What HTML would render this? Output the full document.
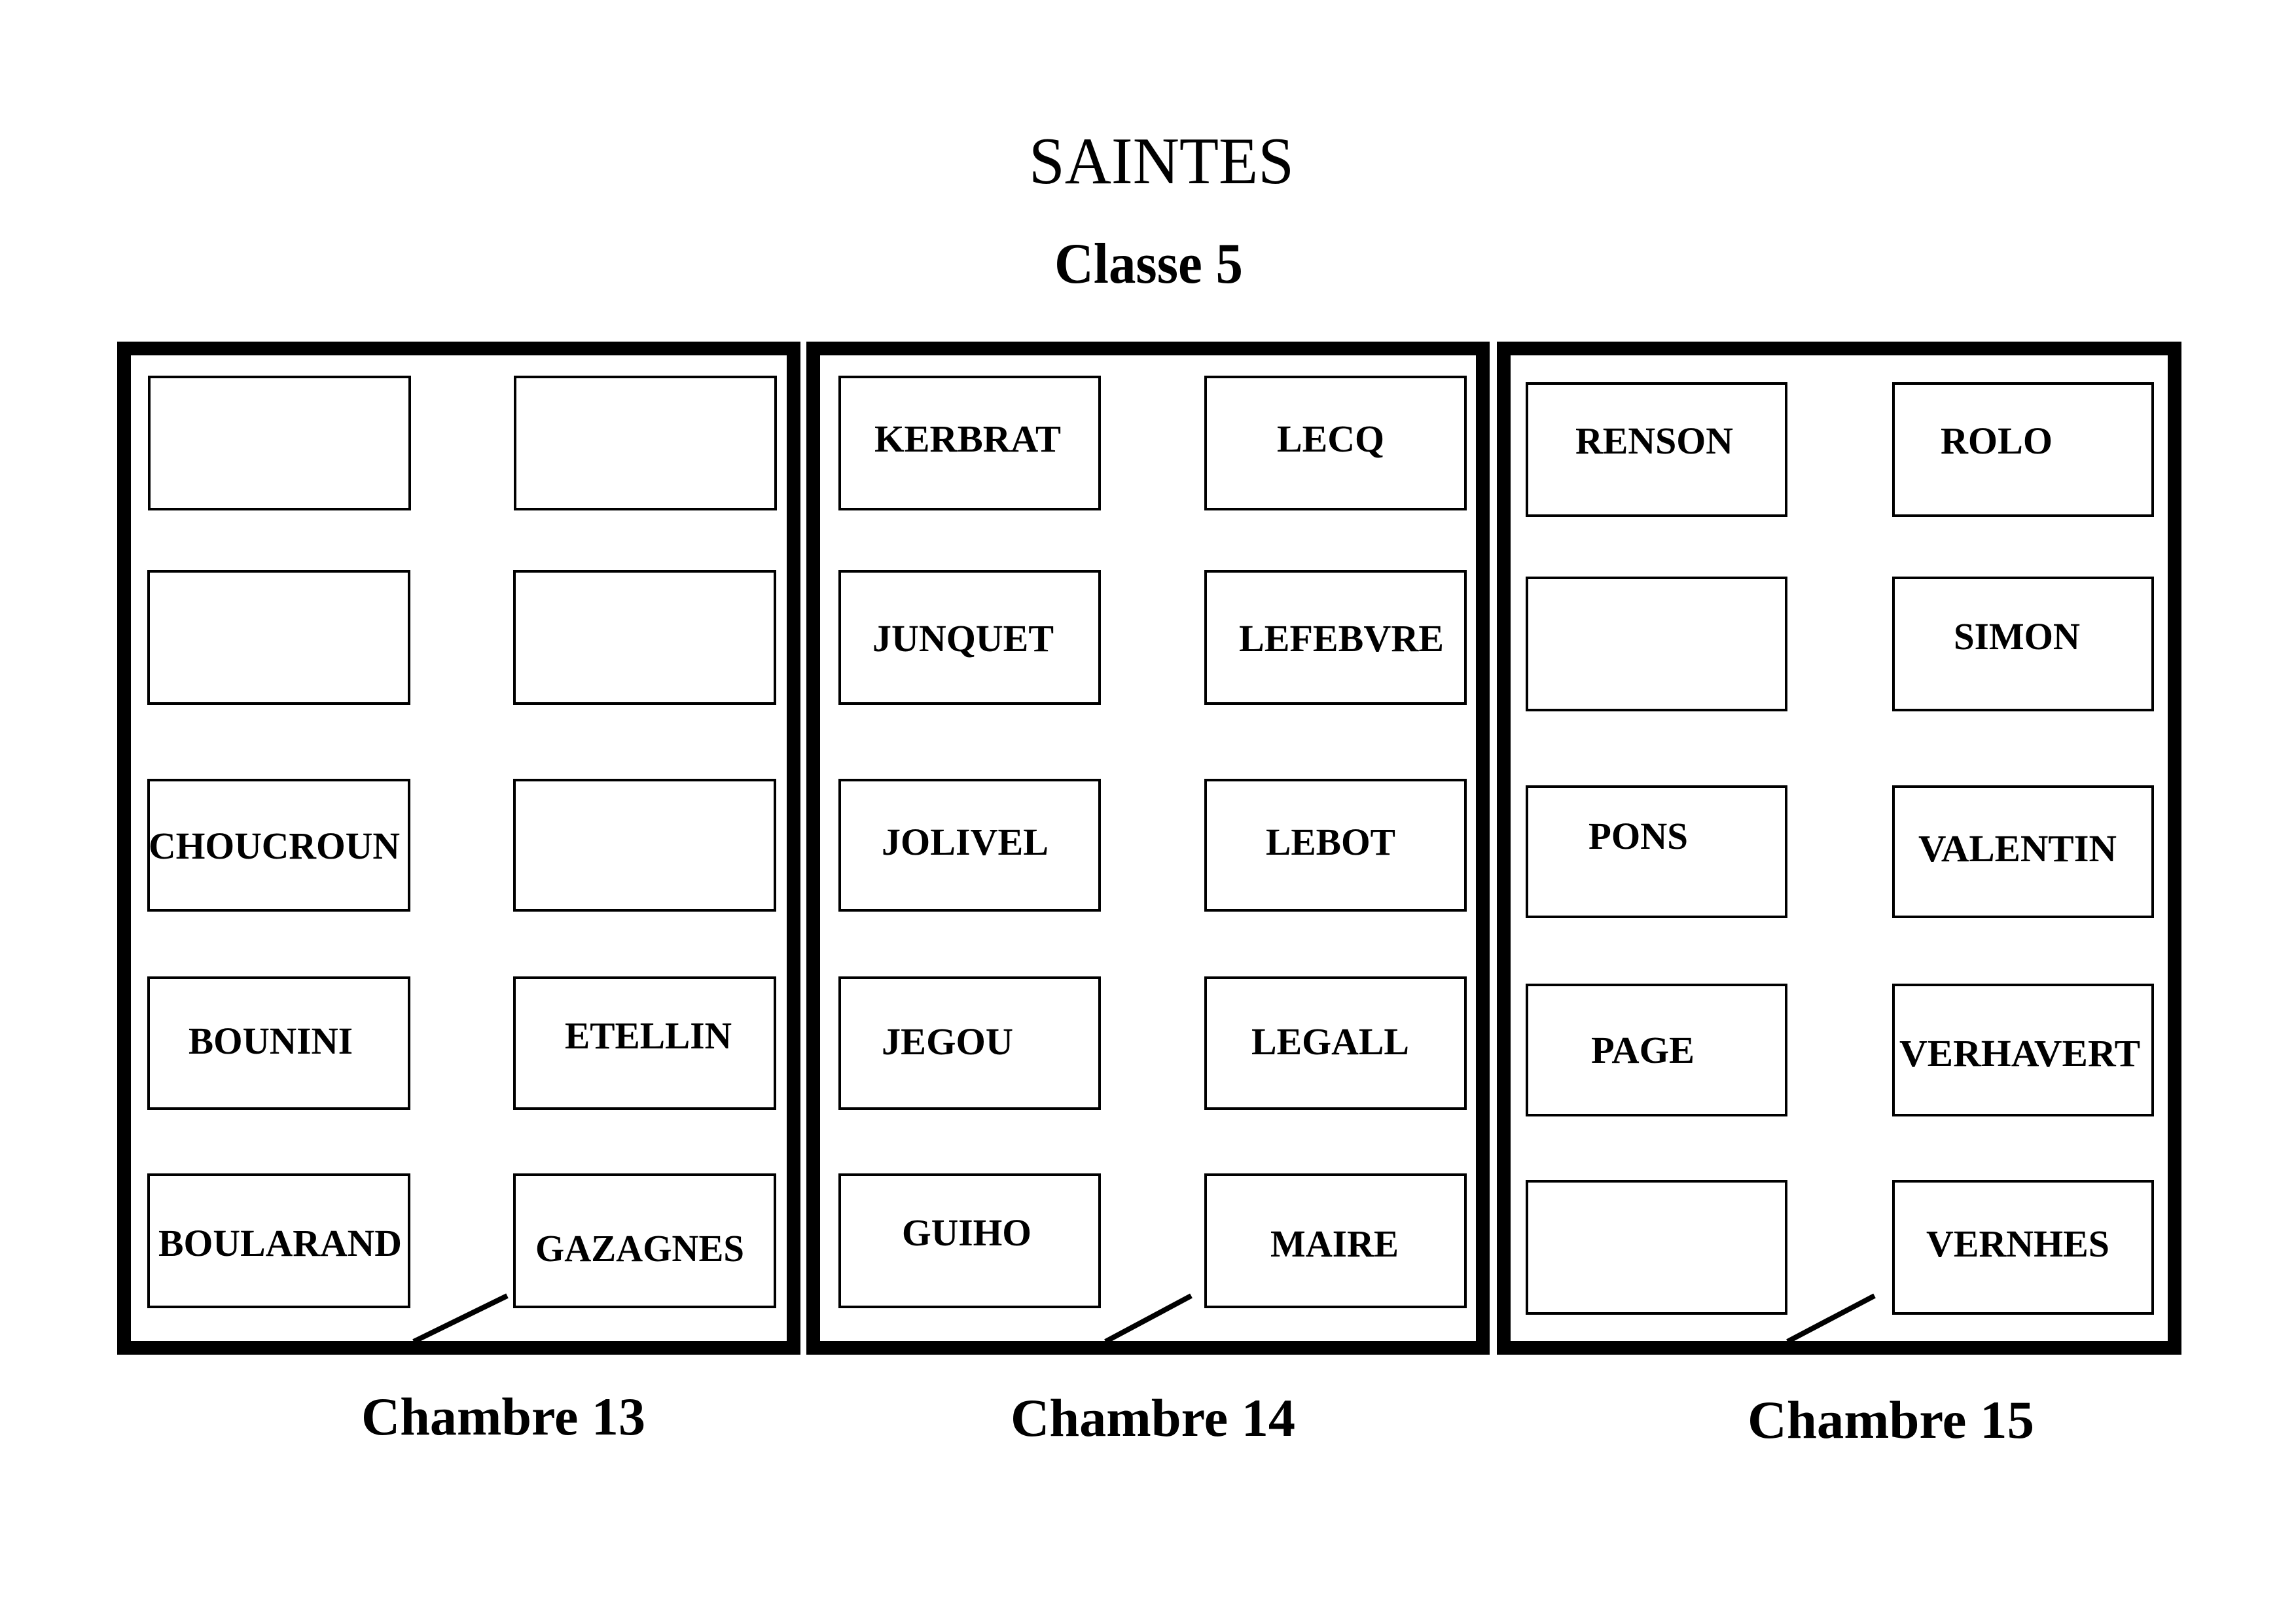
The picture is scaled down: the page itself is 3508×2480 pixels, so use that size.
<!DOCTYPE html>
<html><head><meta charset="utf-8"><style>html,body{margin:0;padding:0;background:#fff}svg{display:block}</style></head>
<body>
<svg xmlns="http://www.w3.org/2000/svg" width="3508" height="2480" viewBox="0 0 3508 2480">
<rect width="3508" height="2480" fill="#fff"/>
<g font-family="Liberation Serif, serif" fill="#000">
<text x="1572" y="280" font-size="102" textLength="405" lengthAdjust="spacingAndGlyphs">SAINTES</text>
<text x="1611" y="432" font-size="88" font-weight="bold" textLength="288" lengthAdjust="spacingAndGlyphs">Classe 5</text>
</g>
<g fill="none" stroke="#000" stroke-width="21">
<rect x="189.5" y="532.5" width="1023" height="1527"/>
<rect x="1242.5" y="532.5" width="1023" height="1527"/>
<rect x="2297.5" y="532.5" width="1025" height="1527"/>
</g>
<g fill="none" stroke="#000" stroke-width="4">
<rect x="228" y="576" width="398" height="202"/>
<rect x="787" y="576" width="398" height="202"/>
<rect x="227" y="873" width="398" height="202"/>
<rect x="786" y="873" width="398" height="202"/>
<rect x="227" y="1192" width="398" height="199"/>
<rect x="786" y="1192" width="398" height="199"/>
<rect x="227" y="1494" width="398" height="200"/>
<rect x="786" y="1494" width="398" height="200"/>
<rect x="227" y="1795" width="398" height="202"/>
<rect x="786" y="1795" width="398" height="202"/>
<rect x="1283" y="576" width="397" height="202"/>
<rect x="1842" y="576" width="397" height="202"/>
<rect x="1283" y="873" width="397" height="202"/>
<rect x="1842" y="873" width="397" height="202"/>
<rect x="1283" y="1192" width="397" height="199"/>
<rect x="1842" y="1192" width="397" height="199"/>
<rect x="1283" y="1494" width="397" height="200"/>
<rect x="1842" y="1494" width="397" height="200"/>
<rect x="1283" y="1795" width="397" height="202"/>
<rect x="1842" y="1795" width="397" height="202"/>
<rect x="2333" y="586" width="396" height="202"/>
<rect x="2893" y="586" width="396" height="202"/>
<rect x="2333" y="883" width="396" height="202"/>
<rect x="2893" y="883" width="396" height="202"/>
<rect x="2333" y="1202" width="396" height="199"/>
<rect x="2893" y="1202" width="396" height="199"/>
<rect x="2333" y="1505" width="396" height="199"/>
<rect x="2893" y="1505" width="396" height="199"/>
<rect x="2333" y="1805" width="396" height="202"/>
<rect x="2893" y="1805" width="396" height="202"/>
</g>
<g stroke="#000" stroke-width="8">
<line x1="632" y1="2050" x2="775" y2="1980"/>
<line x1="1689" y1="2050" x2="1820" y2="1980"/>
<line x1="2731" y1="2050" x2="2864" y2="1980"/>
</g>
<g font-family="Liberation Serif, serif" font-weight="bold" font-size="58" fill="#000">
<text x="227" y="1312" textLength="384" lengthAdjust="spacingAndGlyphs">CHOUCROUN</text>
<text x="288" y="1610" textLength="251" lengthAdjust="spacingAndGlyphs">BOUNINI</text>
<text x="863" y="1602" textLength="255" lengthAdjust="spacingAndGlyphs">ETELLIN</text>
<text x="242" y="1919" textLength="372" lengthAdjust="spacingAndGlyphs">BOULARAND</text>
<text x="818" y="1927" textLength="319" lengthAdjust="spacingAndGlyphs">GAZAGNES</text>
<text x="1336" y="690" textLength="285" lengthAdjust="spacingAndGlyphs">KERBRAT</text>
<text x="1951" y="690" textLength="164" lengthAdjust="spacingAndGlyphs">LECQ</text>
<text x="1333" y="995" textLength="277" lengthAdjust="spacingAndGlyphs">JUNQUET</text>
<text x="1893" y="995" textLength="313" lengthAdjust="spacingAndGlyphs">LEFEBVRE</text>
<text x="1347" y="1306" textLength="255" lengthAdjust="spacingAndGlyphs">JOLIVEL</text>
<text x="1934" y="1306" textLength="198" lengthAdjust="spacingAndGlyphs">LEBOT</text>
<text x="1347" y="1611" textLength="201" lengthAdjust="spacingAndGlyphs">JEGOU</text>
<text x="1912" y="1611" textLength="241" lengthAdjust="spacingAndGlyphs">LEGALL</text>
<text x="1378" y="1903" textLength="198" lengthAdjust="spacingAndGlyphs">GUIHO</text>
<text x="1941" y="1920" textLength="196" lengthAdjust="spacingAndGlyphs">MAIRE</text>
<text x="2407" y="693" textLength="241" lengthAdjust="spacingAndGlyphs">RENSON</text>
<text x="2965" y="693" textLength="171" lengthAdjust="spacingAndGlyphs">ROLO</text>
<text x="2985" y="992" textLength="193" lengthAdjust="spacingAndGlyphs">SIMON</text>
<text x="2427" y="1297" textLength="152" lengthAdjust="spacingAndGlyphs">PONS</text>
<text x="2931" y="1316" textLength="303" lengthAdjust="spacingAndGlyphs">VALENTIN</text>
<text x="2431" y="1624" textLength="158" lengthAdjust="spacingAndGlyphs">PAGE</text>
<text x="2902" y="1629" textLength="368" lengthAdjust="spacingAndGlyphs">VERHAVERT</text>
<text x="2943" y="1920" textLength="280" lengthAdjust="spacingAndGlyphs">VERNHES</text>
</g>
<g font-family="Liberation Serif, serif" font-weight="bold" font-size="82" fill="#000">
<text x="552" y="2192" textLength="434" lengthAdjust="spacingAndGlyphs">Chambre 13</text>
<text x="1544" y="2194" textLength="435" lengthAdjust="spacingAndGlyphs">Chambre 14</text>
<text x="2670" y="2197" textLength="438" lengthAdjust="spacingAndGlyphs">Chambre 15</text>
</g>
</svg>
</body></html>
